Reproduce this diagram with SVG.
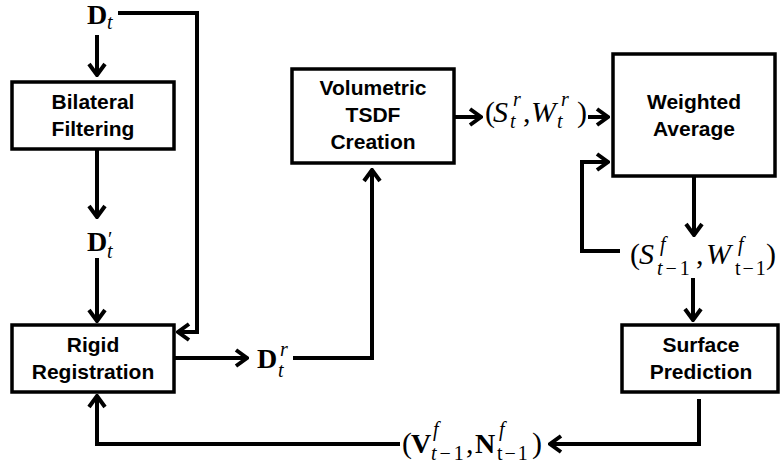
<svg xmlns="http://www.w3.org/2000/svg" width="780" height="466" viewBox="0 0 780 466">
<style>
.box{fill:#fff;stroke:#000;stroke-width:3.5}
.lbl{font-family:"Liberation Sans",Arial,sans-serif;font-weight:bold;font-size:21px;text-anchor:middle;fill:#000}
.con{fill:none;stroke:#000;stroke-width:4;stroke-linejoin:miter}
.m{font-family:"Liberation Serif","DejaVu Serif",serif;font-size:30px;fill:#000}
.mi{font-style:italic;font-size:30px}
.mb{font-weight:bold;font-size:28px}
.si{font-style:italic;font-size:20px}
.s{font-style:normal;font-size:20px}
</style>
<defs>
<marker id="ah" markerUnits="userSpaceOnUse" viewBox="-14 -10 16 20" markerWidth="16" markerHeight="20" refX="0" refY="0" orient="auto">
<path d="M-11,-8 L0,0 L-11,8" fill="none" stroke="#000" stroke-width="4"/>
</marker>
</defs>

<g id="connectors">
<path class="con" d="M97,35 V75" marker-end="url(#ah)"/>
<path class="con" d="M118,13 H197 V332 H178" marker-end="url(#ah)"/>
<path class="con" d="M97,149 V217" marker-end="url(#ah)"/>
<path class="con" d="M97,258 V321" marker-end="url(#ah)"/>
<path class="con" d="M174,358 H247" marker-end="url(#ah)"/>
<path class="con" d="M293,358 H372 V170" marker-end="url(#ah)"/>
<path class="con" d="M454,117 H481" marker-end="url(#ah)"/>
<path class="con" d="M588,117 H608" marker-end="url(#ah)"/>
<path class="con" d="M694,176 V235" marker-end="url(#ah)"/>
<path class="con" d="M620,251 H582 V162 H608" marker-end="url(#ah)"/>
<path class="con" d="M693,278 V320" marker-end="url(#ah)"/>
<path class="con" d="M699,399 V444 H550" marker-end="url(#ah)"/>
<path class="con" d="M400,444 H97 V396" marker-end="url(#ah)"/>
</g>

<g id="bilateral">
<rect class="box" x="12" y="82" width="162" height="67"/>
<text class="lbl" x="93" y="109">Bilateral</text>
<text class="lbl" x="93" y="136">Filtering</text>
</g>
<g id="rigid">
<rect class="box" x="12" y="325" width="162" height="67"/>
<text class="lbl" x="93" y="352">Rigid</text>
<text class="lbl" x="93" y="379">Registration</text>
</g>
<g id="volumetric">
<rect class="box" x="292" y="69" width="162" height="94"/>
<text class="lbl" x="373" y="95">Volumetric</text>
<text class="lbl" x="373" y="122">TSDF</text>
<text class="lbl" x="373" y="149">Creation</text>
</g>
<g id="weighted">
<rect class="box" x="613" y="54" width="162" height="122"/>
<text class="lbl" x="694" y="109">Weighted</text>
<text class="lbl" x="694" y="136">Average</text>
</g>
<g id="surface">
<rect class="box" x="622" y="325" width="156" height="67"/>
<text class="lbl" x="701" y="352">Surface</text>
<text class="lbl" x="701" y="379">Prediction</text>
</g>

<g id="label-Dt">
<text class="m"><tspan class="mb" x="87" y="24">D</tspan><tspan class="si" x="107" y="29">t</tspan></text>
</g>
<g id="label-Dpt">
<text class="m"><tspan class="mb" x="87" y="251">D</tspan><tspan class="s" x="108" y="246" font-size="22">′</tspan><tspan class="si" x="107" y="258">t</tspan></text>
</g>
<g id="label-Drt">
<text class="m"><tspan class="mb" x="257" y="368">D</tspan><tspan class="si" x="280" y="356">r</tspan><tspan class="si" x="278" y="377">t</tspan></text>
</g>
<g id="label-SrWr">
<text class="m"><tspan x="485" y="122">(</tspan><tspan class="mi" x="493" y="122">S</tspan><tspan class="si" x="513" y="106">r</tspan><tspan class="si" x="510" y="128">t</tspan><tspan x="523" y="122">,</tspan><tspan class="mi" x="531" y="122">W</tspan><tspan class="si" x="561" y="106">r</tspan><tspan class="si" x="557" y="128">t</tspan><tspan x="577" y="122">)</tspan></text>
</g>
<g id="label-SfWf">
<text class="m"><tspan x="630" y="264">(</tspan><tspan class="mi" x="639" y="264">S</tspan><tspan class="si" x="660" y="251">f</tspan><tspan class="si" x="657" y="275">t</tspan><tspan class="s" dx="3">−</tspan><tspan class="s" dx="3">1</tspan><tspan x="696" y="264">,</tspan><tspan class="mi" x="706" y="264">W</tspan><tspan class="si" x="738" y="251">f</tspan><tspan class="s" x="735" y="275">t</tspan><tspan class="s" dx="2">−</tspan><tspan class="s" dx="2">1</tspan><tspan x="766" y="264">)</tspan></text>
</g>
<g id="label-VfNf">
<text class="m"><tspan x="402" y="453">(</tspan><tspan class="mb" x="411" y="453">V</tspan><tspan class="si" x="433" y="436">f</tspan><tspan class="si" x="431" y="460">t</tspan><tspan class="s" dx="3">−</tspan><tspan class="s" dx="3">1</tspan><tspan x="466" y="453">,</tspan><tspan class="mb" x="475" y="453">N</tspan><tspan class="si" x="499" y="436">f</tspan><tspan class="s" x="497" y="460">t</tspan><tspan class="s" dx="2">−</tspan><tspan class="s" dx="2">1</tspan><tspan x="532" y="453">)</tspan></text>
</g>
</svg>
